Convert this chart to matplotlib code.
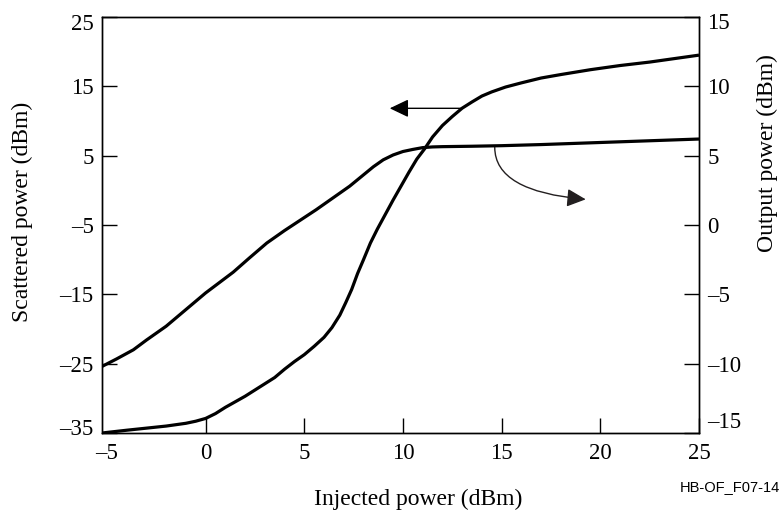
import matplotlib
matplotlib.use("Agg")
import matplotlib.pyplot as plt
from matplotlib.transforms import ScaledTranslation

# ---- data ----
scat_x = [-5.25, -4.0, -3.0, -2.0, -1.0, -0.5, 0.0, 0.5, 1.0, 1.5, 2.0, 2.5, 3.0, 3.5,
          4.0, 4.5, 5.0, 5.5, 6.0, 6.4, 6.8, 7.1, 7.4, 7.7, 8.0, 8.35, 8.7, 9.1, 9.5,
          9.9, 10.3, 10.7, 11.1, 11.5, 12.0, 12.5, 13.0, 13.5, 14.0, 14.5, 15.2, 16.0,
          17.0, 18.0, 19.5, 21.0, 22.5, 24.0, 25.0]
scat_y = [-35.0, -34.6, -34.3, -34.0, -33.6, -33.3, -32.9, -32.2, -31.3, -30.5, -29.7,
          -28.8, -27.9, -27.0, -25.8, -24.7, -23.7, -22.5, -21.2, -19.8, -18.0, -16.2,
          -14.3, -12.0, -10.0, -7.6, -5.6, -3.5, -1.4, 0.6, 2.6, 4.5, 6.0, 7.7, 9.35,
          10.65, 11.85, 12.75, 13.6, 14.2, 14.9, 15.5, 16.2, 16.7, 17.4, 18.0, 18.5,
          19.1, 19.5]

out_x = [-5.25, -4.5, -3.66, -3.0, -2.0, -1.0, 0.0, 0.7, 1.4, 2.2, 3.1, 4.0, 4.8, 5.6,
         6.5, 7.3, 7.9, 8.5, 9.0, 9.5, 10.0, 10.5, 11.0, 11.5, 12.0, 13.5, 15.0, 17.0,
         19.0, 21.0, 23.0, 25.0]
out_y = [-10.2, -9.65, -9.0, -8.3, -7.3, -6.1, -4.9, -4.15, -3.4, -2.4, -1.3, -0.4,
         0.35, 1.1, 2.0, 2.8, 3.5, 4.2, 4.7, 5.05, 5.3, 5.45, 5.58, 5.63, 5.65, 5.68,
         5.72, 5.8, 5.9, 6.0, 6.1, 6.2]

x_ticks = [-5, 0, 5, 10, 15, 20, 25]
x_labels = ["–5", "0", "5", "10", "15", "20", "25"]
left_ticks = [-35, -25, -15, -5, 5, 15, 25]
left_labels = ["–35", "–25", "–15", "–5", "5", "15", "25"]
right_ticks = [-15, -10, -5, 0, 5, 10, 15]
right_labels = ["–15", "–10", "–5", "0", "5", "10", "15"]

x_label = "Injected power (dBm)"
left_label = "Scattered power (dBm)"
right_label = "Output power (dBm)"
code_label = "HB-OF_F07-14"

plt.rcParams["font.family"] = ["Liberation Serif", "DejaVu Serif"]

fig = plt.figure(figsize=(7.83, 5.11), dpi=100)
W, H = 783, 511
ax = fig.add_axes([102 / W, 1 - 433 / H, (699 - 102) / W, (433 - 17) / H])
ax2 = ax.twinx()

ax.plot(scat_x, scat_y, color="black", lw=2.3, solid_joinstyle="round", solid_capstyle="butt")
ax2.plot(out_x, out_y, color="black", lw=2.3, solid_joinstyle="round", solid_capstyle="butt")

ax.set_xlim(-5.25, 25)
ax.set_ylim(-35, 25)
ax2.set_ylim(-15, 15)

ax.set_xticks(x_ticks, x_labels)
ax.set_yticks(left_ticks, left_labels)
ax2.set_yticks(right_ticks, right_labels)

TS = 16.5
for a in (ax, ax2):
    for s in a.spines.values():
        s.set_linewidth(1.0)
ax.tick_params(axis="both", direction="in", length=11, width=1.0, labelsize=TS, pad=6)
ax.tick_params(axis="x", pad=7)
ax2.tick_params(axis="y", direction="in", length=11, width=1.0, labelsize=TS, pad=6)

# hide tick mark at x=-5 (not drawn in reference)
ax.xaxis.get_major_ticks()[0].tick1line.set_visible(False)

def shift(label, dy_px):
    label.set_transform(label.get_transform() + ScaledTranslation(0, dy_px / 100, fig.dpi_scale_trans))

ylabs = ax.get_yticklabels()
shift(ylabs[0], 6)
shift(ylabs[-1], -5)
rlabs = ax2.get_yticklabels()
shift(rlabs[0], 13)
shift(rlabs[-1], -4)

LS = 17
fig.text(418 / W, 1 - 499 / H, x_label, ha="center", va="center", fontsize=LS)
fig.text(22 / W, 1 - 212 / H, left_label, ha="center", va="center", rotation=90, fontsize=LS)
fig.text(767 / W, 1 - 153 / H, right_label, ha="center", va="center", rotation=90, fontsize=LS)
fig.text(780 / W, 1 - 487 / H, code_label, ha="right", va="center", fontsize=10.5,
         family=["Liberation Sans", "DejaVu Sans"])

# arrows
ax.annotate("", xy=(9.33, 11.83), xytext=(12.96, 11.83),
            arrowprops=dict(arrowstyle="-|>,head_length=1.15,head_width=0.55",
                            mutation_scale=10, color="black", lw=1.0,
                            shrinkA=0, shrinkB=0))
ax.annotate("", xy=(19.26, -1.3), xytext=(14.65, 6.2),
            arrowprops=dict(arrowstyle="-|>,head_length=1.15,head_width=0.55",
                            mutation_scale=10, color="#231f20", lw=1.0,
                            shrinkA=0, shrinkB=0,
                            connectionstyle="angle3,angleA=-90,angleB=-5"))

fig.savefig("out.png", dpi=100)
